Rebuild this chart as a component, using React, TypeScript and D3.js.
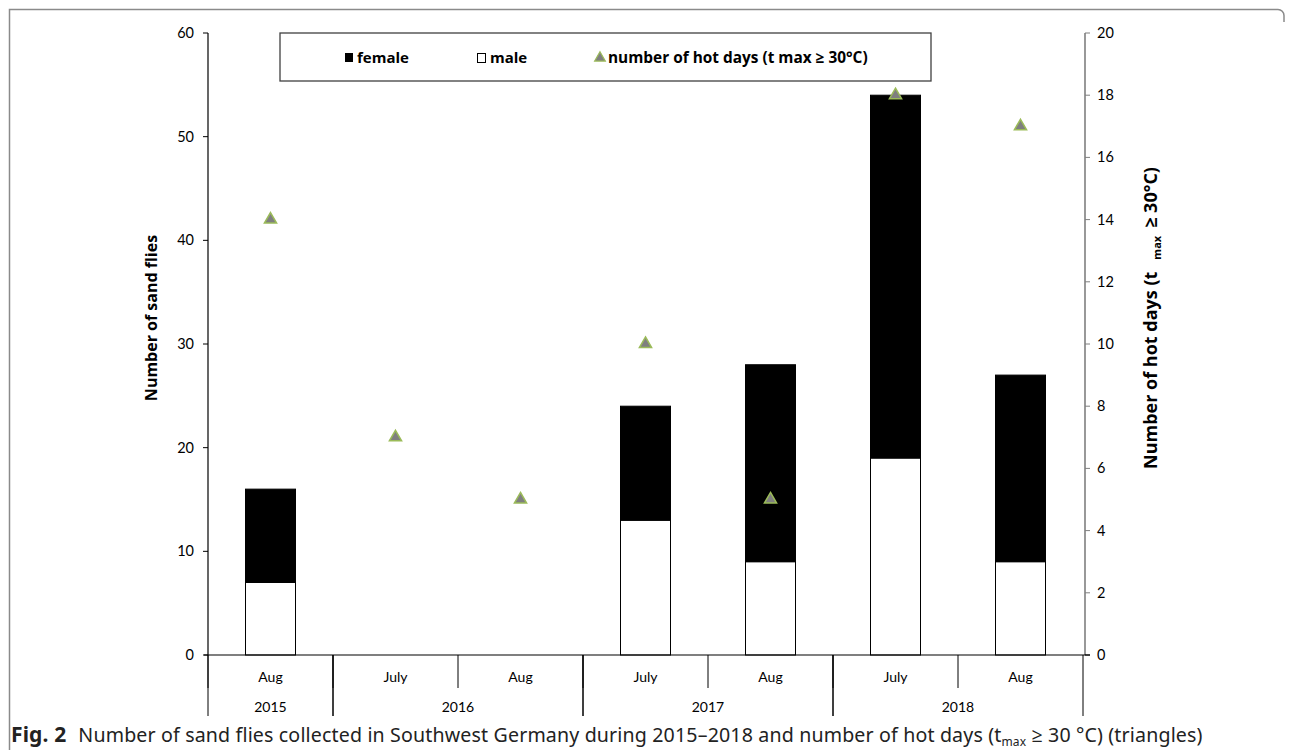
import * as d3 from "d3";

// valeurs
const months = ["Aug", "July", "Aug", "July", "Aug", "July", "Aug"];
const years = ["2015", "2016", "2016", "2017", "2017", "2018", "2018"];
const female = [9, 0, 0, 11, 19, 35, 18];
const male = [7, 0, 0, 13, 9, 19, 9];
const hotDays = [14, 7, 5, 10, 5, 18, 17];
const leftTicks = [0, 10, 20, 30, 40, 50, 60];
const rightTicks = [0, 2, 4, 6, 8, 10, 12, 14, 16, 18, 20];

const W = 1292;
const H = 750;
const chartFont = "Lato, 'Open Sans', sans-serif";
const titleFont = "'Open Sans', Lato, sans-serif";
const capFont = "'Noto Sans', 'Open Sans', sans-serif";

const App = () => {
	const left = 208;
	const right = 1083;
	const top = 33;
	const bottom = 655;

	const ids = months.map((_m, i) => String(i));
	const x = d3.scaleBand<string>().domain(ids).range([left, right]).paddingInner(0.6).paddingOuter(0.3);
	const step = x.step();
	const y = d3.scaleLinear().domain([0, 60]).range([bottom, top]);
	const y2 = d3.scaleLinear().domain([0, 20]).range([bottom, top]);

	const rows = months.map((m, i) => ({ id: ids[i], male: male[i], female: female[i], m }));
	const stack = d3.stack<any>().keys(["male", "female"])(rows);

	// regroupement des années contiguës
	const yearGroups: { year: string; start: number; end: number }[] = [];
	years.forEach((yr, i) => {
		const last = yearGroups[yearGroups.length - 1];
		if (last && last.year === yr) last.end = i;
		else yearGroups.push({ year: yr, start: i, end: i });
	});
	const catLeft = (i: number) => x(ids[i])! - (step - x.bandwidth()) / 2;

	const tri = d3.symbol().type(d3.symbolTriangle).size(64)();
	const legendTri = d3.symbol().type(d3.symbolTriangle).size(50)();

	return (
		<svg width={W} height={H} style={{ display: "block", position: "absolute", left: 0, top: 0 }}>
			<rect width={W} height={H} fill="#fff" />
			{/* cadre */}
			<path d={`M9.5,${H} V9.5 H1278 a6,6 0 0 1 6,6 V22`} fill="none" stroke="#8a8a8a" strokeWidth={1.5} />

			{/* barres empilées */}
			{stack.map((s) => (
				<g key={s.key}>
					{s.map((d, i) =>
						d[1] - d[0] > 0 ? (
							<rect
								key={i}
								x={x(ids[i])}
								y={y(d[1])}
								width={x.bandwidth()}
								height={y(d[0]) - y(d[1])}
								fill={s.key === "female" ? "#000" : "#fff"}
								stroke="#000"
								strokeWidth={1}
							/>
						) : null
					)}
				</g>
			))}

			{/* axe gauche */}
			<line x1={left} x2={left} y1={top} y2={bottom} stroke="#000" strokeWidth={1.2} />
			{leftTicks.map((t) => (
				<g key={t} transform={`translate(${left},${y(t)})`}>
					<line x1={-5} x2={0} stroke="#000" />
					<text x={-14} dy="0.35em" textAnchor="end" fontFamily={chartFont} fontSize={14.5} fill="#000">
						{t}
					</text>
				</g>
			))}

			{/* axe droit */}
			<line x1={right + 2} x2={right + 2} y1={top} y2={bottom} stroke="#7f7f7f" strokeWidth={1.6} />
			{rightTicks.map((t) => (
				<g key={t} transform={`translate(${right + 2},${y2(t)})`}>
					<line x1={0} x2={5} stroke={t === 0 ? "#000" : "#7f7f7f"} />
					<text x={12} dy="0.35em" fontFamily={chartFont} fontSize={14.5} fill="#000">
						{t}
					</text>
				</g>
			))}

			{/* axe des x à deux niveaux */}
			<line x1={left - 4} x2={right + 7} y1={bottom} y2={bottom} stroke="#000" strokeWidth={1.2} />
			{months.map((m, i) => (
				<g key={i}>
					<line x1={catLeft(i)} x2={catLeft(i)} y1={bottom} y2={688} stroke="#000" />
					<text
						x={x(ids[i])! + x.bandwidth() / 2}
						y={677}
						dy="0.35em"
						textAnchor="middle"
						fontFamily={chartFont}
						fontSize={14}
						fill="#000"
					>
						{m}
					</text>
				</g>
			))}
			{yearGroups.map((g) => {
				const x0 = catLeft(g.start);
				const x1 = catLeft(g.end) + step;
				return (
					<g key={g.year}>
						<line x1={x0} x2={x0} y1={bottom} y2={716} stroke="#000" />
						<line x1={x1} x2={x1} y1={bottom} y2={716} stroke="#000" />
						<text x={(x0 + x1) / 2} y={707} dy="0.35em" textAnchor="middle" fontFamily={chartFont} fontSize={14} fill="#000">
							{g.year}
						</text>
					</g>
				);
			})}

			{/* triangles : jours chauds */}
			{hotDays.map((v, i) => (
				<path
					key={i}
					d={tri!}
					transform={`translate(${x(ids[i])! + x.bandwidth() / 2},${y2(v)})`}
					fill="#7f7f7f"
					stroke="#9bbb59"
					strokeWidth={1.5}
				/>
			))}

			{/* titres des axes */}
			<text
				transform="translate(157,318) rotate(-90)"
				textAnchor="middle"
				fontFamily={titleFont}
				fontWeight="bold"
				fontSize={16}
				fill="#000"
			>
				Number of sand flies
			</text>
			<text
				transform="translate(1157,318) rotate(-90)"
				textAnchor="middle"
				fontFamily={titleFont}
				fontWeight="bold"
				fontSize={18}
				fill="#000"
			>
				Number of hot days (t
				<tspan fontSize={11} dx={12} dy={4}>
					max
				</tspan>
				<tspan dx={8} dy={-4}>≥ 30°C)</tspan>
			</text>

			{/* légende */}
			<rect x={280} y={33} width={651} height={48} fill="#fff" stroke="#404040" strokeWidth={1.3} />
			<rect x={345} y={53} width={8} height={9} fill="#000" />
			<text x={357} y={57.5} dy="0.35em" fontFamily={titleFont} fontWeight="bold" fontSize={15} fill="#000">
				female
			</text>
			<rect x={477.5} y={53.5} width={8} height={9} fill="#fff" stroke="#000" strokeWidth={1} />
			<text x={490} y={57.5} dy="0.35em" fontFamily={titleFont} fontWeight="bold" fontSize={15} fill="#000">
				male
			</text>
			<path d={legendTri!} transform="translate(600,58)" fill="#7f7f7f" stroke="#9bbb59" strokeWidth={1.2} />
			<text x={608} y={57.5} dy="0.35em" fontFamily={titleFont} fontWeight="bold" fontSize={15.4} fill="#000">
				number of hot days (t max ≥ 30°C)
			</text>

			{/* légende de la figure */}
			<text x={11} y={742} fontFamily={capFont} fontSize={19.6} fill="#222" letterSpacing={0.15}>
				<tspan fontWeight="bold" fontSize={21}>Fig. 2</tspan>
				<tspan dx={12}>Number of sand flies collected in Southwest Germany during 2015–2018 and number of hot days (t</tspan>
				<tspan fontSize={12} dy={4}>
					max
				</tspan>
				<tspan dy={-4}> ≥ 30 °C) (triangles)</tspan>
			</text>
		</svg>
	);
};

export default App;
